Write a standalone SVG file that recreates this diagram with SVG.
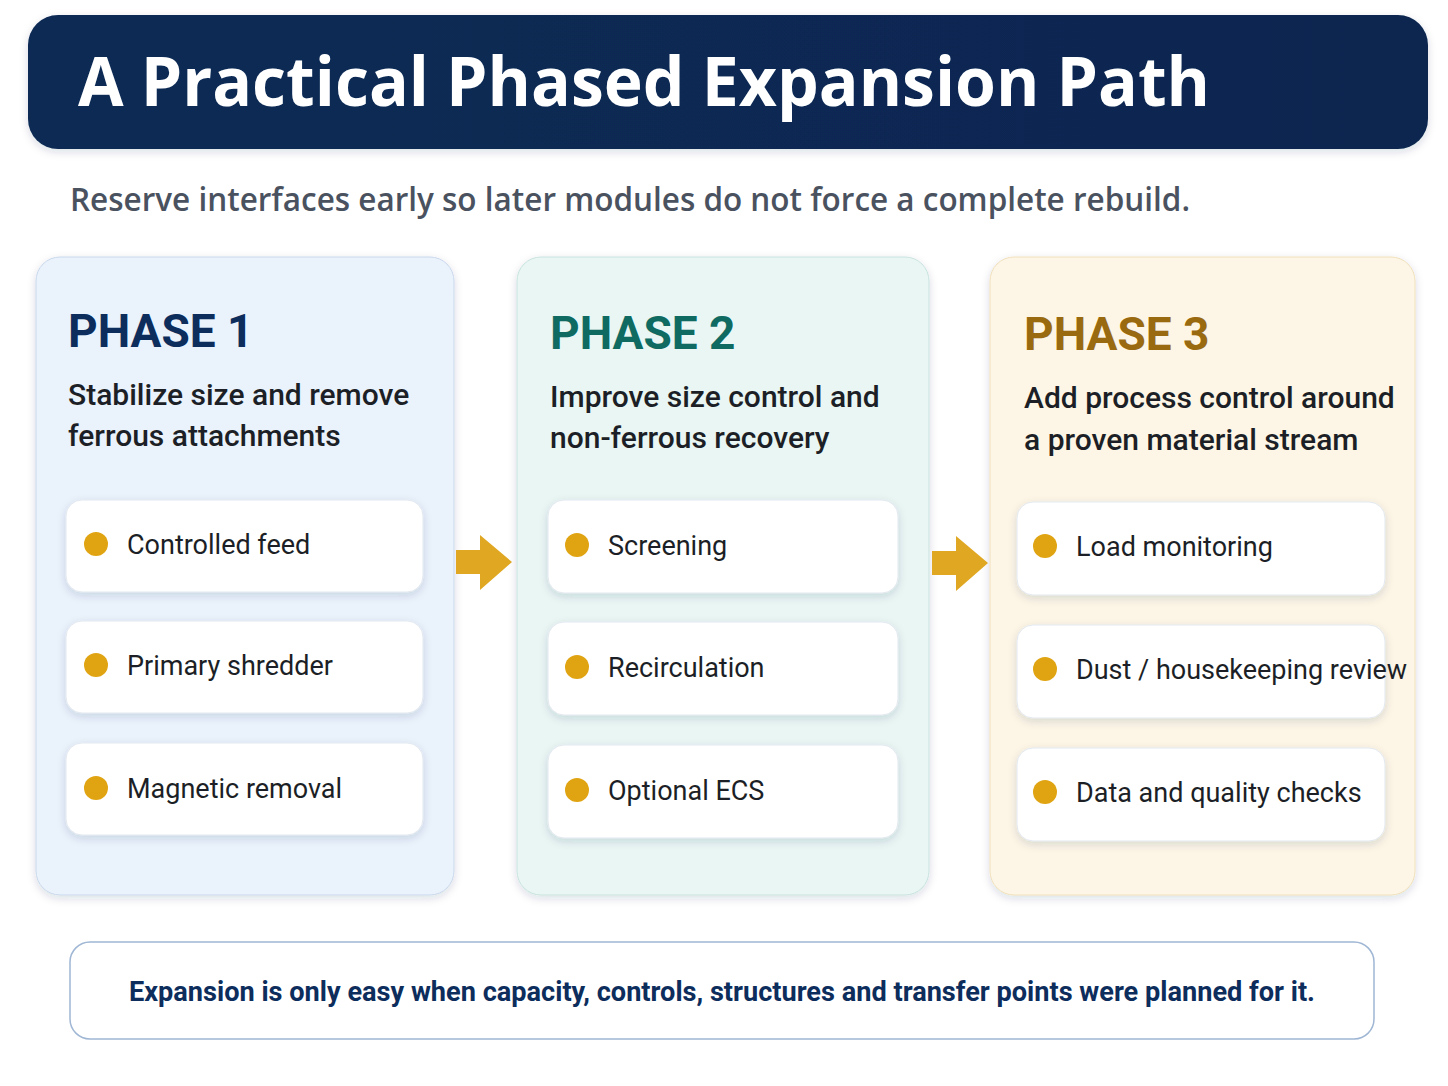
<svg xmlns="http://www.w3.org/2000/svg" width="1448" height="1086" viewBox="0 0 1448 1086">
<defs>
<filter id="sh" x="-10%" y="-10%" width="120%" height="130%"><feDropShadow dx="0" dy="3" stdDeviation="4" flood-color="#1a2b4a" flood-opacity="0.15"/></filter>
<linearGradient id="hg" x1="0" y1="0" x2="1" y2="0"><stop offset="0" stop-color="#0b2a55"/><stop offset="1" stop-color="#0a2750"/></linearGradient>
</defs>
<style>
.ph{font-family:Roboto,"Noto Sans",sans-serif;font-weight:700;font-size:46px}
.sub{font-family:Roboto,"Noto Sans",sans-serif;font-weight:500;font-size:30px;fill:#1c1f26}
.item{fill:#fff;stroke:#e2e8ef;stroke-width:1}
.it{font-family:Roboto,"Noto Sans",sans-serif;font-size:27px;fill:#1c1f26}
.dot{fill:#e0a412}
.arr{fill:#e0a722}
</style>
<rect width="1448" height="1086" fill="#fff"/>
<g id="header" filter="url(#sh)">
<rect x="28" y="15" width="1400" height="134" rx="30" fill="url(#hg)"/>
<text x="78" y="106" font-family="Open Sans,sans-serif" font-weight="700" font-size="68" fill="#fff" textLength="1132" lengthAdjust="spacingAndGlyphs">A Practical Phased Expansion Path</text>
</g>
<text id="subtitle" x="70" y="211" font-family="Open Sans,sans-serif" font-weight="600" font-size="32" fill="#4a5260" textLength="1120" lengthAdjust="spacingAndGlyphs">Reserve interfaces early so later modules do not force a complete rebuild.</text>

<g id="phase1">
<rect x="36" y="257" width="418" height="638" rx="24" fill="#eaf2fc" stroke="#c9d8ec" filter="url(#sh)"/>
<text class="ph" x="68" y="347" fill="#0d2d5c">PHASE 1</text>
<text class="sub" x="68" y="405">Stabilize size and remove</text>
<text class="sub" x="68" y="446">ferrous attachments</text>
<g filter="url(#sh)"><rect class="item" x="66" y="500" width="357" height="92" rx="16"/><rect class="item" x="66" y="621" width="357" height="92" rx="16"/><rect class="item" x="66" y="743" width="357" height="92" rx="16"/></g>
<circle class="dot" cx="96" cy="544" r="12"/><text class="it" x="127" y="554">Controlled feed</text>
<circle class="dot" cx="96" cy="665" r="12"/><text class="it" x="127" y="675">Primary shredder</text>
<circle class="dot" cx="96" cy="788" r="12"/><text class="it" x="127" y="798">Magnetic removal</text>
</g>

<g id="phase2">
<rect x="517" y="257" width="412" height="638" rx="24" fill="#e9f6f4" stroke="#c8e3de" filter="url(#sh)"/>
<text class="ph" x="550" y="349" fill="#0f6a62">PHASE 2</text>
<text class="sub" x="550" y="407">Improve size control and</text>
<text class="sub" x="550" y="448">non-ferrous recovery</text>
<g filter="url(#sh)"><rect class="item" x="548" y="500" width="350" height="93" rx="16"/><rect class="item" x="548" y="622" width="350" height="93" rx="16"/><rect class="item" x="548" y="745" width="350" height="93" rx="16"/></g>
<circle class="dot" cx="577" cy="545" r="12"/><text class="it" x="608" y="555">Screening</text>
<circle class="dot" cx="577" cy="667" r="12"/><text class="it" x="608" y="677">Recirculation</text>
<circle class="dot" cx="577" cy="790" r="12"/><text class="it" x="608" y="800">Optional ECS</text>
</g>

<g id="phase3">
<rect x="990" y="257" width="425" height="638" rx="24" fill="#fdf6e6" stroke="#f0e0bb" filter="url(#sh)"/>
<text class="ph" x="1024" y="350" fill="#9a6a10">PHASE 3</text>
<text class="sub" x="1024" y="408">Add process control around</text>
<text class="sub" x="1024" y="450">a proven material stream</text>
<g filter="url(#sh)"><rect class="item" x="1017" y="502" width="368" height="93" rx="16"/><rect class="item" x="1017" y="625" width="368" height="93" rx="16"/><rect class="item" x="1017" y="748" width="368" height="93" rx="16"/></g>
<circle class="dot" cx="1045" cy="546" r="12"/><text class="it" x="1076" y="556">Load monitoring</text>
<circle class="dot" cx="1045" cy="669" r="12"/><text class="it" x="1076" y="679">Dust / housekeeping review</text>
<circle class="dot" cx="1045" cy="792" r="12"/><text class="it" x="1076" y="802">Data and quality checks</text>
</g>

<g id="connectors">
<polygon class="arr" points="456,550 480,550 480,535 512,562 480,590 480,574 456,574"/>
<polygon class="arr" points="932,551 956,551 956,536 988,563 956,591 956,575 932,575"/>
</g>

<g id="footer">
<rect x="70" y="942" width="1304" height="97" rx="20" fill="#fff" stroke="#9fb6d4" stroke-width="1.5"/>
<text x="722" y="1001" text-anchor="middle" font-family="Roboto,sans-serif" font-weight="700" font-size="28" fill="#0d2d5c" textLength="1186" lengthAdjust="spacingAndGlyphs">Expansion is only easy when capacity, controls, structures and transfer points were planned for it.</text>
</g>
</svg>
